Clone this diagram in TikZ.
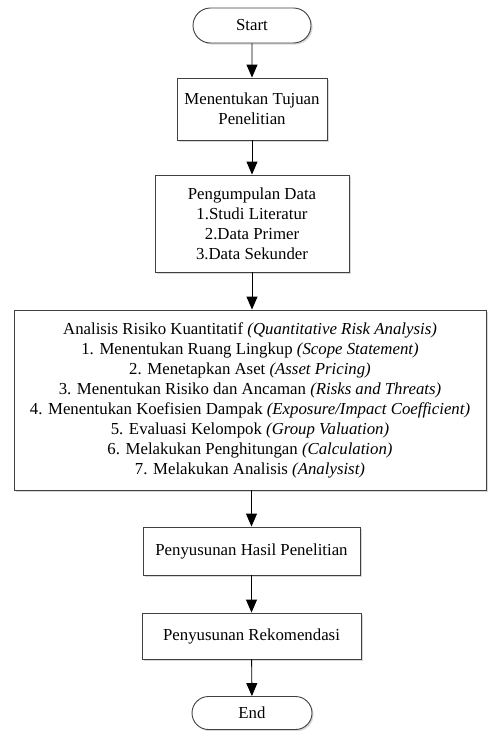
\documentclass[tikz,border=0pt]{standalone}
\usepackage{fontspec}
\setmainfont{Liberation Serif}
\usetikzlibrary{arrows.meta,shapes.misc,shadows}
\begin{document}
\begin{tikzpicture}[x=1pt,y=1pt,
  base/.style={draw=black!75, line width=0.9pt, fill=white, inner sep=1pt,
    font=\fontsize{16.8}{20}\selectfont, align=center,
    drop shadow={shadow xshift=1.6pt, shadow yshift=-1.6pt, fill=black!25, opacity=0.6}},
  term/.style={base, rounded rectangle, minimum height=35pt},
  proc/.style={base, rectangle},
  flow/.style={draw=black, line width=0.9pt, -{Triangle[length=13pt,width=11pt]}}]
\useasboundingbox (0,0) rectangle (488,-731);
\node[term, minimum width=120pt] (start) at (252,-25.5) {Start};
\node[proc, minimum width=150pt, minimum height=62pt] (b1) at (252,-109) {Menentukan Tujuan\\Penelitian};
\node[proc, minimum width=194pt, minimum height=97pt] (b2) at (252,-223.5) {Pengumpulan Data\\1.Studi Literatur\\2.Data Primer\\3.Data Sekunder};
\node[proc, minimum width=472pt, minimum height=180pt] (b3) at (250,-400) {Analisis Risiko Kuantitatif \textit{(Quantitative Risk Analysis)}\\
1. Menentukan Ruang Lingkup \textit{(Scope Statement)}\\
2. Menetapkan Aset \textit{(Asset Pricing)}\\
3. Menentukan Risiko dan Ancaman \textit{(Risks and Threats)}\\
4. Menentukan Koefisien Dampak \textit{(Exposure/Impact Coefficient)}\\
5. Evaluasi Kelompok \textit{(Group Valuation)}\\
6. Melakukan Penghitungan \textit{(Calculation)}\\
7. Melakukan Analisis \textit{(Analysist)}};
\node[proc, minimum width=217pt, minimum height=48pt] (b4) at (251.5,-551) {Penyusunan Hasil Penelitian};
\node[proc, minimum width=219pt, minimum height=46pt] (b5) at (251.5,-636) {Penyusunan Rekomendasi};
\node[term, minimum width=122pt, minimum height=33pt] (end) at (252,-713) {End};
\draw[flow] (start) -- (b1);
\draw[flow] (b1) -- (b2);
\draw[flow] (b2.south) -- (b2.south |- b3.north);
\draw[flow] (b3.south -| b4.north) -- (b4.north);
\draw[flow] (b4) -- (b5);
\draw[flow] (b5) -- (end);
\end{tikzpicture}
\end{document}
